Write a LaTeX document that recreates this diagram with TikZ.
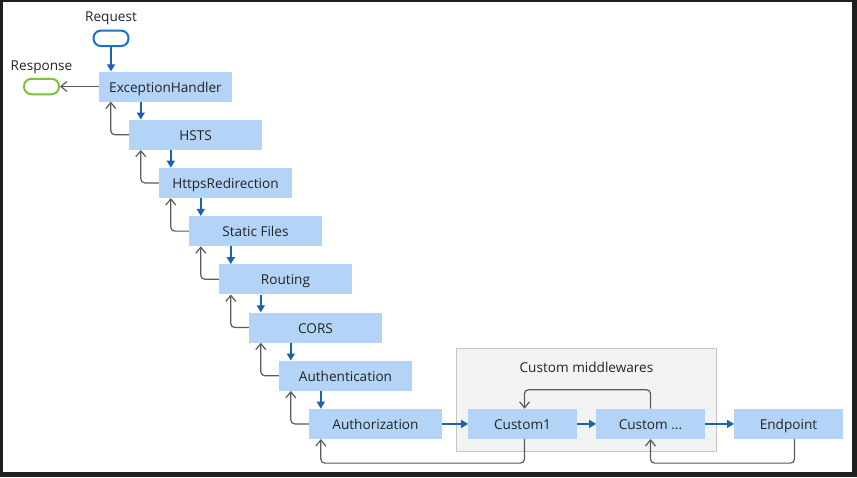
\documentclass[tikz,border=0pt]{standalone}
\usepackage{fontspec}
\setmainfont{Open Sans}
\usepackage{tikz}
\usetikzlibrary{arrows.meta,fit,backgrounds,positioning}
\definecolor{boxblue}{HTML}{B3D3F7}
\definecolor{flowblue}{HTML}{1763AF}
\definecolor{reqblue}{HTML}{1B72C6}
\definecolor{resgreen}{HTML}{7CC142}
\definecolor{backgray}{HTML}{5B5B5B}
\definecolor{grpfill}{HTML}{F3F3F3}
\definecolor{grpline}{HTML}{C4C4C4}
\definecolor{textdark}{HTML}{242424}
\definecolor{framedark}{HTML}{1F1F1F}

\begin{document}
\begin{tikzpicture}[x=1pt, y=1pt, node distance=48.2pt,
	font=\fontsize{13.6}{16}\selectfont, text=textdark,
	mw/.style={fill=boxblue, rectangle, minimum width=133pt, minimum height=30pt, inner sep=0pt, text height=11pt, text depth=0pt},
	custmw/.style={mw, minimum width=108.5pt},
	pill/.style={draw, line width=2pt, rectangle, rounded corners=7.5pt, minimum width=35pt, minimum height=15.5pt},
	fwd/.style={-{Triangle[length=7pt,width=8pt]}, line width=1.5pt, flowblue},
	back/.style={-{Straight Barb[length=6pt,width=10pt]}, line width=1.2pt, backgray, rounded corners=4pt},
	grp/.style={draw=grpline, fill=grpfill, line width=1pt, inner sep=12pt}]
	
	\begin{scope}[on background layer]
	\fill[framedark] (0,0) rectangle (857,-477);
	\fill[white] (3,-2) rectangle (852,-472);
	\end{scope}
	\useasboundingbox (0,0) rectangle (857,-477);
	
	\node[mw] (exc) at (165.5,-86.5) {ExceptionHandler};
	\node[mw, below of=exc, xshift=30pt] (hsts) {HSTS};
	\node[mw, below of=hsts, xshift=30pt] (https) {HttpsRedirection};
	\node[mw, below of=https, xshift=30pt] (static) {Static Files};
	\node[mw, below of=static, xshift=30pt] (routing) {Routing};
	\node[mw, below of=routing, xshift=30pt] (cors) {CORS};
	\node[mw, below of=cors, xshift=30pt] (authn) {Authentication};
	\node[mw, below of=authn, xshift=30pt] (authz) {Authorization};
	
	\node[custmw, right of=authz, node distance=147pt] (cust1) {Custom1};
	\node[custmw, right of=cust1, node distance=128pt] (cdots) {Custom ...};
	\node[custmw, right of=cdots, node distance=138pt] (ep) {Endpoint};
	
	\node[pill, draw=reqblue, above of=exc, xshift=-54.5pt] (req) {};
	\node[above of=req, yshift=-28.5pt] (reqlabel) {Request};
	\node[pill, draw=resgreen, left of=exc, node distance=124pt] (res) {};
	\node[above of=res, yshift=-28.5pt] (reslabel) {Response};
	
	\coordinate (grptop) at ([yshift=48pt]cust1.north);
	\begin{scope}[on background layer]
	\node[grp, fit=(cust1)(cdots)(grptop)] (grp) {};
	\end{scope}
	\node (grplabel) at ([yshift=-19pt]grp.north) {Custom middlewares};
	
	\draw[fwd] (req) -- (req |- exc.north);
	\draw[back] (exc.west) -- (res.east);
	
	\draw[fwd] ([xshift=12pt]hsts.north west |- exc.south) -- ([xshift=12pt]hsts.north west);
	\draw[back] (hsts.west) -| ([xshift=12pt]exc.south west);
	\draw[fwd] ([xshift=12pt]https.north west |- hsts.south) -- ([xshift=12pt]https.north west);
	\draw[back] (https.west) -| ([xshift=12pt]hsts.south west);
	\draw[fwd] ([xshift=12pt]static.north west |- https.south) -- ([xshift=12pt]static.north west);
	\draw[back] (static.west) -| ([xshift=12pt]https.south west);
	\draw[fwd] ([xshift=12pt]routing.north west |- static.south) -- ([xshift=12pt]routing.north west);
	\draw[back] (routing.west) -| ([xshift=12pt]static.south west);
	\draw[fwd] ([xshift=12pt]cors.north west |- routing.south) -- ([xshift=12pt]cors.north west);
	\draw[back] (cors.west) -| ([xshift=12pt]routing.south west);
	\draw[fwd] ([xshift=12pt]authn.north west |- cors.south) -- ([xshift=12pt]authn.north west);
	\draw[back] (authn.west) -| ([xshift=12pt]cors.south west);
	\draw[fwd] ([xshift=12pt]authz.north west |- authn.south) -- ([xshift=12pt]authz.north west);
	\draw[back] (authz.west) -| ([xshift=12pt]authn.south west);
	
	\draw[fwd] (authz) -- (cust1);
	\draw[fwd] (cust1) -- (cdots);
	\draw[fwd] (cdots) -- (ep);
	\draw[back] (cdots.north) -- ++(0,19) -| ([xshift=2pt]cust1.north);
	\draw[back] ([xshift=2pt]cust1.south) -- ++(0,-24) -| ([xshift=12pt]authz.south west);
	\draw[back] ([xshift=6pt]ep.south) -- ++(0,-24) -| (cdots.south);
\end{tikzpicture}
\end{document}
